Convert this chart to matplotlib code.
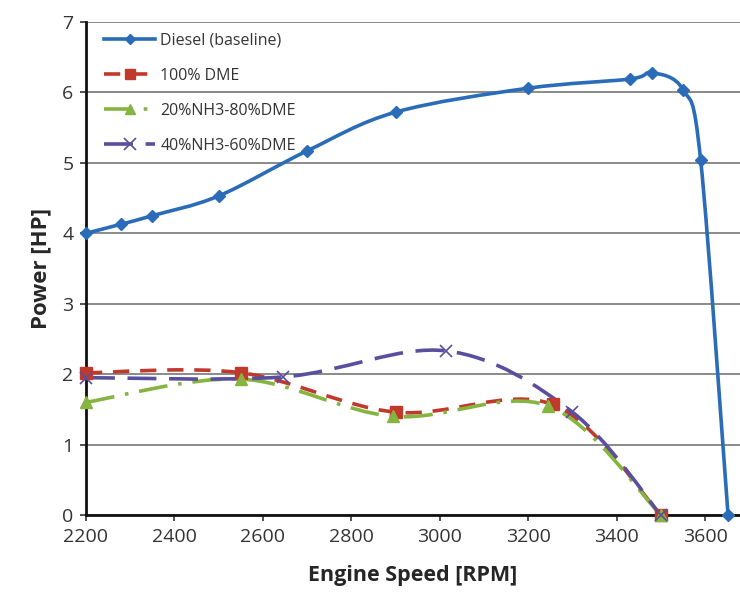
import numpy as np
import matplotlib
matplotlib.use("Agg")
import matplotlib.pyplot as plt
from matplotlib.path import Path
from matplotlib.patches import PathPatch
from matplotlib.lines import Line2D

plt.rcParams['font.family'] = ['Open Sans', 'DejaVu Sans']

# ---- data ----
diesel_rpm = [2200, 2280, 2350, 2500, 2700, 2900, 3200, 3430, 3480, 3550, 3590, 3652]
diesel_hp = [4.00, 4.13, 4.25, 4.53, 5.17, 5.72, 6.06, 6.19, 6.28, 6.04, 5.04, 0.00]

dme_rpm = [2200, 2550, 2900, 3255, 3500]
dme_hp = [2.02, 2.02, 1.46, 1.57, 0.00]

nh20_rpm = [2200, 2550, 2895, 3245, 3500]
nh20_hp = [1.60, 1.93, 1.40, 1.55, 0.00]

nh40_rpm = [2200, 2645, 3015, 3300, 3500]
nh40_hp = [1.95, 1.96, 2.33, 1.46, 0.00]

labels = ["Diesel (baseline)", "100% DME", "20%NH3-80%DME", "40%NH3-60%DME"]
x_ticks = [2200, 2400, 2600, 2800, 3000, 3200, 3400, 3600]
y_ticks = [0, 1, 2, 3, 4, 5, 6, 7]


def smooth_path(xs, ys):
    """Excel-like smoothed line: Catmull-Rom segments as cubic Beziers."""
    p = np.column_stack([xs, ys]).astype(float)
    n = len(p)
    verts = [p[0]]
    codes = [Path.MOVETO]
    for i in range(n - 1):
        p0 = p[i - 1] if i > 0 else p[i]
        p1 = p[i]
        p2 = p[i + 1]
        p3 = p[i + 2] if i + 2 < n else p[i + 1]
        c1 = p1 + (p2 - p0) / 6.0
        c2 = p2 - (p3 - p1) / 6.0
        verts += [c1, c2, p2]
        codes += [Path.CURVE4] * 3
    return Path(verts, codes)


fig = plt.figure(figsize=(7.4, 5.99), dpi=100)
ax = fig.add_axes([86 / 740, 84 / 599, 1 - 86 / 740, 493 / 599])

series = [
    dict(x=diesel_rpm, y=diesel_hp, color='#2B6CB8', ls='-', marker='D', ms=6, mew=1, lw=2.6),
    dict(x=dme_rpm, y=dme_hp, color='#C0392B', ls=(0, (4.5, 3)), marker='s', ms=8.5, mew=1, lw=2.6),
    dict(x=nh20_rpm, y=nh20_hp, color='#86B440', ls=(0, (8, 3, 1, 3)), marker='^', ms=8.5, mew=1, lw=2.6),
    dict(x=nh40_rpm, y=nh40_hp, color='#5A4E9E', ls=(0, (8, 3.5)), marker='x', ms=9, mew=1.2, lw=2.6),
]

handles = []
for s, lab in zip(series, labels):
    patch = PathPatch(smooth_path(s['x'], s['y']), fill=False, edgecolor=s['color'],
                      linewidth=s['lw'], linestyle=s['ls'], capstyle='butt', zorder=3)
    ax.add_patch(patch)
    ax.plot(s['x'], s['y'], linestyle='none', marker=s['marker'], markersize=s['ms'],
            color=s['color'], markeredgewidth=s['mew'], zorder=4, clip_on=False)
    handles.append(Line2D([0], [0], color=s['color'], lw=s['lw'], ls=s['ls'],
                          marker=s['marker'], markersize=s['ms'] * 0.9,
                          markeredgewidth=s['mew']))

ax.set_xlim(2200, 3679)
ax.set_ylim(0, 7)
ax.set_xticks(x_ticks)
ax.set_yticks(y_ticks)
ax.grid(axis='y', color='#8a8a8a', linewidth=1.4)
ax.set_axisbelow(True)

for side in ['top', 'right']:
    ax.spines[side].set_visible(False)
for side in ['left', 'bottom']:
    ax.spines[side].set_linewidth(2.0)
    ax.spines[side].set_color('#111111')

ax.tick_params(axis='both', direction='out', length=4, width=1.2, color='#333333',
               labelsize=14, labelcolor='#333333')
ax.tick_params(axis='y', pad=5)
ax.tick_params(axis='x', pad=5)

ax.set_xlabel('Engine Speed [RPM]', fontsize=15.5, fontweight='bold', color='#262626', labelpad=14)
ax.set_ylabel('Power [HP]', fontsize=16, fontweight='bold', color='#262626', labelpad=8)

leg = ax.legend(handles, labels, loc='upper left', bbox_to_anchor=(0.012, 1.0),
                frameon=False, fontsize=11.5, handlelength=3.2, handletextpad=0.3,
                labelspacing=1.2, borderaxespad=0.25, labelcolor='#333333')

fig.savefig('out.png', dpi=100)
